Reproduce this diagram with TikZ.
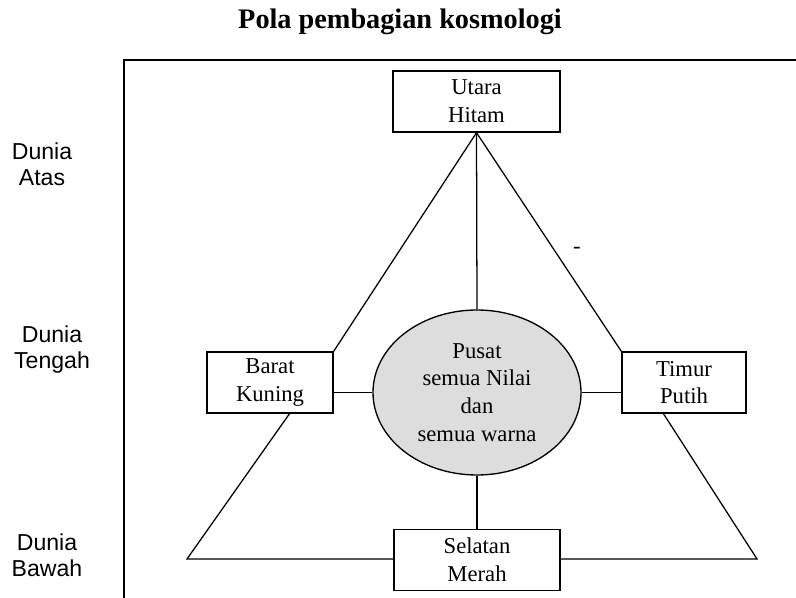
\documentclass[tikz,border=0pt]{standalone}
\usepackage{fontspec}
\setmainfont{Liberation Serif}
\newfontfamily\arialfont{Liberation Sans}
\usetikzlibrary{shapes.geometric}
\definecolor{ellgray}{HTML}{DDDDDD}
\begin{document}
\begin{tikzpicture}[x=0.75pt,y=-0.75pt,
  body/.style={font=\fontsize{17}{20.8}\selectfont},
  dirbox/.style={draw,line width=1pt,inner sep=0pt,minimum height=45.75pt,align=center,body},
  sidelabel/.style={align=center,font=\arialfont\fontsize{17.3}{19.8}\selectfont},
  edge/.style={line width=0.95pt}]
\useasboundingbox (0,0) rectangle (796,598);
% title
\node[font=\bfseries\fontsize{21.2}{25}\selectfont] (title) at (400,22) {Pola pembagian kosmologi};
% frame
\coordinate (fTR) at (796,60);
\coordinate (fTL) at (124,60);
\coordinate (fBL) at (124,600);
\draw[line width=1.3pt] (fTR) -- (fTL) -- (fBL);
% side labels
\node[sidelabel] (atas) at (42,164) {Dunia\\Atas};
\node[sidelabel] (tengah) at (52,349.5) {Dunia\\Tengah};
\node[sidelabel] (bawah) at (47,555) {Dunia\\Bawah};
% nodes
\node[dirbox,minimum width=125.25pt] (utara) at (476.5,101.5) {Utara\\Hitam};
\node[dirbox,minimum width=94.5pt] (barat) at (270,382.5) {Barat\\Kuning};
\node[dirbox,minimum width=93pt] (timur) at (684,382.5) {Timur\\Putih};
\node[dirbox,minimum width=124.5pt] (selatan) at (477,560) {Selatan\\Merah};
\node[ellipse,draw,line width=1pt,fill=ellgray,inner sep=0pt,minimum width=156pt,minimum height=123.75pt,align=center,body] (pusat) at (477,392.5) {Pusat\\semua Nilai\\dan\\semua warna};
\node[body,inner sep=0pt] (dash) at (577,250) {-};
% helper coordinates
\coordinate (bS) at (290,413);
\coordinate (tS) at (663,413);
\coordinate (cL) at (187,559);
\coordinate (cR) at (757,559);
% connectors
\draw[edge] (utara.south) -- (pusat.north);
\draw[edge] (utara.south) -- (barat.north east);
\draw[edge] (utara.south) -- (timur.north west);
\draw[edge] (pusat.west) -- (pusat.west -| barat.east);
\draw[edge] (pusat.east) -- (pusat.east -| timur.west);
\draw[edge] (pusat.south) -- (selatan.north);
\draw[edge] (bS) -- (cL) -- (cL -| selatan.west);
\draw[edge] (tS) -- (cR) -- (cR -| selatan.east);
\end{tikzpicture}
\end{document}
